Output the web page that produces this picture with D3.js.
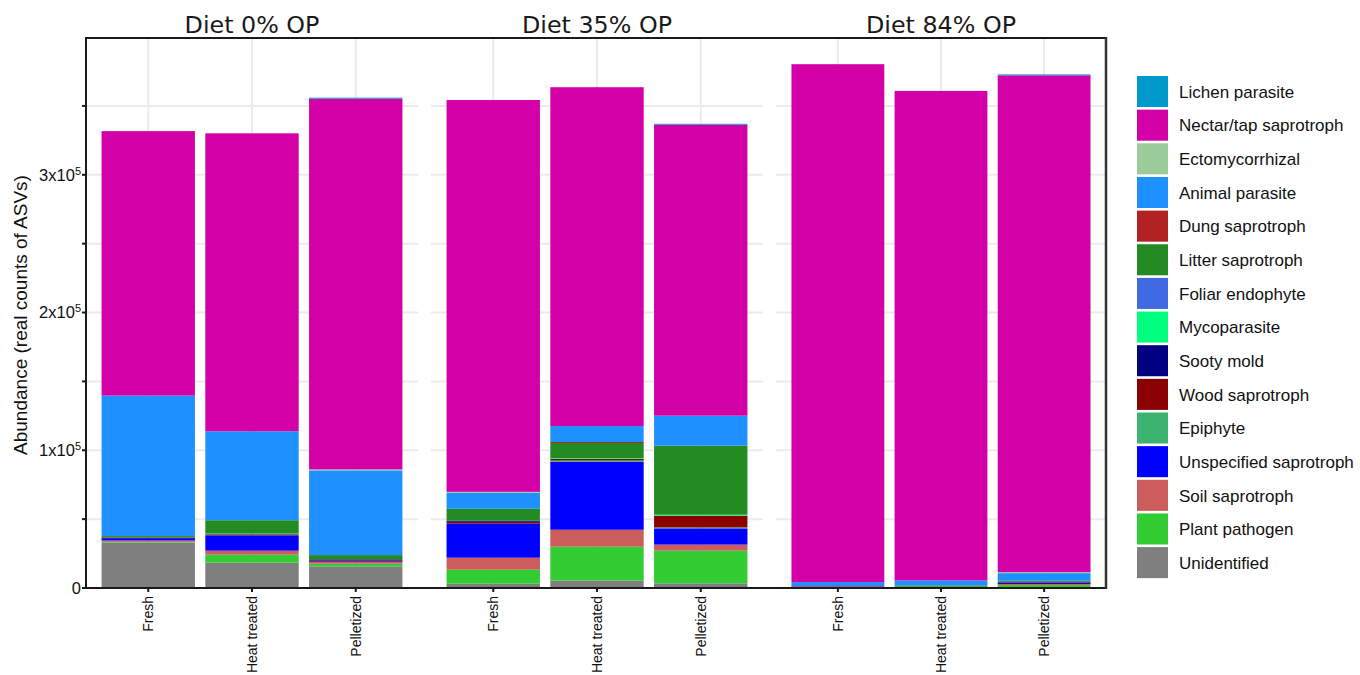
<!DOCTYPE html>
<html>
<head>
<meta charset="utf-8">
<script src="https://cdn.jsdelivr.net/npm/d3@7"></script>
<style>
  html, body { margin: 0; padding: 0; background: #fff; }
  svg { display: block; }
</style>
</head>
<body>
<svg id="chart" width="1360" height="675"></svg>
<script>
// ---------------- data ----------------
const diets = ["Diet 0% OP", "Diet 35% OP", "Diet 84% OP"];
const treatments = ["Fresh", "Heat treated", "Pelletized"];

// stack order, bottom to top
const guilds = ["Unidentified", "Plant pathogen", "Soil saprotroph", "Unspecified saprotroph",
  "Epiphyte", "Wood saprotroph", "Sooty mold", "Mycoparasite", "Foliar endophyte",
  "Litter saprotroph", "Dung saprotroph", "Animal parasite", "Ectomycorrhizal",
  "Nectar/tap saprotroph", "Lichen parasite"];
const guildColors = ["#7f7f7f", "#32cd32", "#cd5c5c", "#0000ff",
  "#3cb371", "#8b0000", "#000080", "#00ff7f", "#4169e1",
  "#228b22", "#b22222", "#1e90ff", "#99cc99",
  "#d300a8", "#0099cc"];

// values per guild, order: 0% (Fresh, Heat, Pellet), 35% (...), 84% (...)
const unidentified        = [33000, 18400, 15700,   3100,   5300,   3400,    300,    400,    700];
const plantPathogen       = [  500,  5800,  1900,  10200,  24700,  23700,    400,    500,   1500];
const soilSaprotroph      = [ 1000,  2900,  1200,   8700,  12300,   4400,    500,      0,    700];
const unspecifiedSaprotroph=[ 1700, 11100,   600,  24900,  49300,  11800,    700,      0,   1000];
const epiphyte            = [    0,     0,     0,      0,    900,    700,      0,      0,      0];
const woodSaprotroph      = [  500,   600,   700,   1200,   1200,   8500,      0,      0,    600];
const sootyMold           = [    0,   300,   700,    700,      0,      0,      0,      0,      0];
const mycoparasite        = [    0,   400,     0,      0,    700,    700,      0,      0,      0];
const foliarEndophyte     = [    0,     0,     0,      0,      0,      0,      0,      0,      0];
const litterSaprotroph    = [ 1000,  9700,  3100,   8700,  10900,  50100,      0,   1000,    700];
const dungSaprotroph      = [    0,     0,     0,      0,    700,      0,      0,      0,      0];
const animalParasite      = [102000, 64600, 61500, 11600,  11600,  21800,   2400,   3600,   5600];
const ectomycorrhizal     = [    0,     0,   700,    700,      0,      0,      0,      0,    700];
const nectarTapSaprotroph = [192000, 216300, 269200, 284500, 246000, 211200, 376000, 355400, 360700];
const lichenParasite      = [    0,     0,   700,      0,      0,    700,      0,      0,    700];

const guildValues = [unidentified, plantPathogen, soilSaprotroph, unspecifiedSaprotroph,
  epiphyte, woodSaprotroph, sootyMold, mycoparasite, foliarEndophyte,
  litterSaprotroph, dungSaprotroph, animalParasite, ectomycorrhizal,
  nectarTapSaprotroph, lichenParasite];

const yMajorTicks = [0, 100000, 200000, 300000];
const yTickLabels = ["0", "1x10|5", "2x10|5", "3x10|5"];
const yAllTicks = [0, 50000, 100000, 150000, 200000, 250000, 300000, 350000];

// ---------------- build table ----------------
const rows = [];
diets.forEach((d, di) => treatments.forEach((t, ti) => {
  const r = { diet: d, treatment: t };
  guilds.forEach((g, gi) => { r[g] = guildValues[gi][di * 3 + ti]; });
  rows.push(r);
}));

const stacked = d3.stack().keys(guilds)(rows);
const color = d3.scaleOrdinal().domain(guilds).range(guildColors);

// ---------------- layout ----------------
const svg = d3.select("#chart");
const plotTop = 38, plotBottom = 588;
const panelRanges = [[86, 418], [431, 763], [776, 1106]];
const yMax = d3.max(rows, r => d3.sum(guilds, g => r[g])) * 1.05;
const y = d3.scaleLinear().domain([0, yMax]).range([plotBottom, plotTop]);

const xScales = panelRanges.map(r => d3.scaleBand().domain(treatments).range(r)
  .paddingInner(0.1).paddingOuter(0.15));

const gridColor = "#ebebeb";
const axisColor = "#1a1a1a";
const sans = "'Liberation Sans', Arial, sans-serif";

// gridlines per panel
panelRanges.forEach((r, pi) => {
  const g = svg.append("g");
  g.selectAll("line.h").data(yAllTicks).join("line")
    .attr("x1", r[0]).attr("x2", r[1])
    .attr("y1", d => y(d)).attr("y2", d => y(d))
    .attr("stroke", gridColor).attr("stroke-width", 2);
  g.selectAll("line.v").data(treatments).join("line")
    .attr("x1", d => xScales[pi](d) + xScales[pi].bandwidth() / 2)
    .attr("x2", d => xScales[pi](d) + xScales[pi].bandwidth() / 2)
    .attr("y1", plotTop).attr("y2", plotBottom)
    .attr("stroke", gridColor).attr("stroke-width", 2);
});

// bars
const barG = svg.append("g");
stacked.forEach(layer => {
  barG.append("g").attr("fill", color(layer.key))
    .selectAll("rect").data(layer).join("rect")
    .attr("x", d => xScales[diets.indexOf(d.data.diet)](d.data.treatment))
    .attr("width", d => xScales[diets.indexOf(d.data.diet)].bandwidth())
    .attr("y", d => y(d[1]))
    .attr("height", d => Math.max(0, y(d[0]) - y(d[1])));
});

// borders / axis lines
svg.append("line").attr("x1", panelRanges[0][0]).attr("x2", panelRanges[2][1])
  .attr("y1", plotTop).attr("y2", plotTop).attr("stroke", axisColor).attr("stroke-width", 2);
svg.append("line").attr("x1", panelRanges[0][0]).attr("x2", panelRanges[2][1])
  .attr("y1", plotBottom).attr("y2", plotBottom).attr("stroke", axisColor).attr("stroke-width", 2);
svg.append("line").attr("x1", panelRanges[0][0]).attr("x2", panelRanges[0][0])
  .attr("y1", plotTop - 1).attr("y2", plotBottom + 1).attr("stroke", axisColor).attr("stroke-width", 2);
svg.append("line").attr("x1", panelRanges[2][1]).attr("x2", panelRanges[2][1])
  .attr("y1", plotTop - 1).attr("y2", plotBottom + 1).attr("stroke", "#333").attr("stroke-width", 2.5);

// y ticks
svg.append("g").selectAll("line").data(yAllTicks).join("line")
  .attr("x1", panelRanges[0][0] - 4).attr("x2", panelRanges[0][0])
  .attr("y1", d => y(d)).attr("y2", d => y(d))
  .attr("stroke", axisColor).attr("stroke-width", 2);

const yl = svg.append("g").attr("font-family", sans).attr("fill", "#111");
yMajorTicks.forEach((v, i) => {
  const parts = yTickLabels[i].split("|");
  const t = yl.append("text").attr("x", 81).attr("y", y(v)).attr("dy", "0.36em")
    .attr("text-anchor", "end").attr("font-size", 16.5);
  t.append("tspan").text(parts[0]);
  if (parts[1]) t.append("tspan").attr("font-size", 11).attr("dy", -6).text(parts[1]);
});

// y title
svg.append("text").attr("transform", `translate(27, ${(plotTop + plotBottom) / 2 + 2}) rotate(-90)`)
  .attr("text-anchor", "middle").attr("font-family", sans).attr("font-size", 19)
  .attr("fill", "#111").text("Abundance (real counts of ASVs)");

// x ticks and labels
panelRanges.forEach((r, pi) => {
  const xs = xScales[pi];
  treatments.forEach(t => {
    const cx = xs(t) + xs.bandwidth() / 2;
    svg.append("line").attr("x1", cx).attr("x2", cx).attr("y1", plotBottom).attr("y2", plotBottom + 4)
      .attr("stroke", axisColor).attr("stroke-width", 2);
    svg.append("text").attr("transform", `translate(${cx}, ${plotBottom + 8}) rotate(-90)`)
      .attr("text-anchor", "end").attr("dy", "0.35em")
      .attr("font-family", sans).attr("font-size", 14).attr("fill", "#111").text(t);
  });
  svg.append("text").attr("x", (r[0] + r[1]) / 2).attr("y", 33)
    .attr("text-anchor", "middle").attr("font-family", "'DejaVu Sans', sans-serif")
    .attr("font-size", 23.8).attr("fill", "#1a1a1a").text(diets[pi]);
});

// legend (top to bottom = reverse stack order)
const legendItems = guilds.slice().reverse();
const lg = svg.append("g").attr("transform", "translate(1137, 75)");
const step = 33.65;
lg.selectAll("rect").data(legendItems).join("rect")
  .attr("x", 0).attr("y", (d, i) => i * step + 1)
  .attr("width", 31).attr("height", step - 2.6)
  .attr("fill", d => color(d));
lg.selectAll("text").data(legendItems).join("text")
  .attr("x", 42).attr("y", (d, i) => i * step + step / 2).attr("dy", "0.35em")
  .attr("font-family", sans).attr("font-size", 17).attr("fill", "#111")
  .text(d => d);
</script>
</body>
</html>
